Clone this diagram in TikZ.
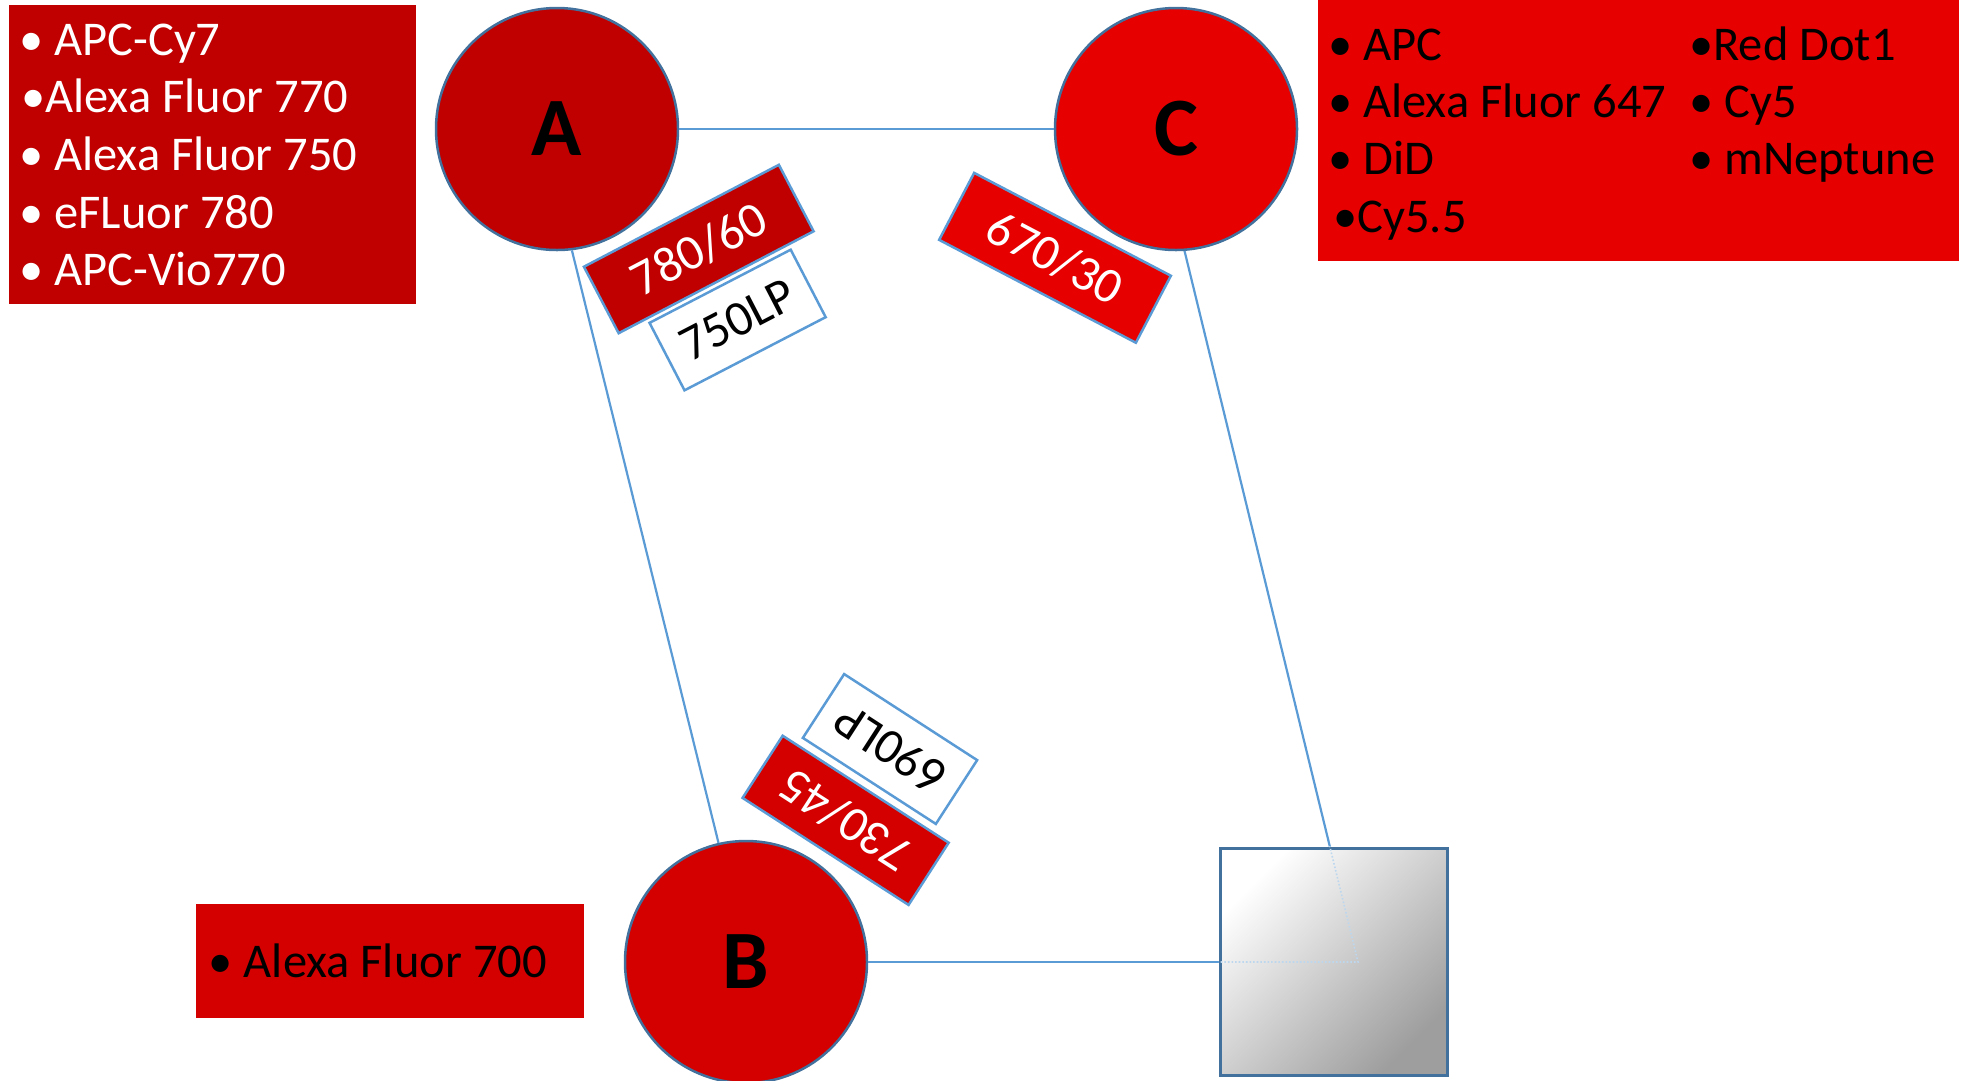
\documentclass[tikz,border=0pt]{standalone}
\usepackage{fontspec}
\setmainfont{Carlito}
\definecolor{redA}{HTML}{C00000}
\definecolor{redB}{HTML}{D40000}
\definecolor{redC}{HTML}{E60000}
\definecolor{linkblue}{HTML}{5B9BD5}
\definecolor{rimblue}{HTML}{41719C}
\newcommand\listfont{\fontsize{48.5}{58}\selectfont}
\newcommand\filterfont{\fontsize{50}{60}\selectfont}
\newcommand\letterfont{\fontsize{83}{90}\selectfont\bfseries}
\begin{document}
\begin{tikzpicture}[x=1pt,y=-1pt,
  disc/.style={circle, draw=rimblue, line width=2.5pt, minimum size=242pt, inner sep=0pt, font=\letterfont},
  listbox/.style={rectangle, inner sep=0pt, anchor=north west},
  item/.style={anchor=base west, inner sep=0pt, font=\listfont},
  filter/.style={rectangle, draw=linkblue, line width=2.5pt, inner sep=0pt, font=\filterfont},
  link/.style={draw=linkblue, line width=2.2pt},
  hidden/.style={draw=linkblue!40, line width=1.6pt, dotted}]
\useasboundingbox (0,0) rectangle (1964,1080);

% list boxes
\node[listbox, fill=redA, minimum width=407pt, minimum height=299pt] (boxA) at (9,5) {};
\node[listbox, fill=redC, minimum width=641pt, minimum height=261pt] (boxC) at (1318,0) {};
\node[listbox, fill=redB, minimum width=388pt, minimum height=114pt] (boxB) at (196,904) {};

\node[item, text=white] (a1) at (19,55) {• APC-Cy7};
\node[item, text=white] (a2) at (21,112) {•Alexa Fluor 770};
\node[item, text=white] (a3) at (19,170) {• Alexa Fluor 750};
\node[item, text=white] (a4) at (19,228) {• eFLuor 780};
\node[item, text=white] (a5) at (19,285) {• APC-Vio770};

\node[item] (c1) at (1328,60) {• APC};
\node[item] (c2) at (1328,117) {• Alexa Fluor 647};
\node[item] (c3) at (1328,174) {• DiD};
\node[item] (c4) at (1333,232) {•Cy5.5};
\node[item] (c5) at (1689,60) {•Red Dot1};
\node[item] (c6) at (1689,117) {• Cy5};
\node[item] (c7) at (1689,174) {• mNeptune};

\node[item] (b1) at (208.5,977) {• Alexa Fluor 700};

% circles
\node[disc, fill=redA] (A) at (557,129) {A};
\node[disc, fill=redC] (C) at (1176,129) {C};
\node[disc, fill=redB] (B) at (746,962) {B};
\coordinate (D) at (1358,962);

% connectors
\draw[link] (A) -- (C);
\draw[link] (A.-83) -- (B.103);
\draw[link] (C.-86) -- (D);
\draw[link] (B) -- (D);

% detector square
\node[draw=rimblue, line width=3pt, minimum size=227pt, inner sep=0pt,
      top color=white, bottom color=black!38, shading angle=45] (S) at (1333.5,961.5) {};
\begin{scope}
  \clip (S.north west) rectangle (S.south east);
  \draw[hidden] (C.-86) -- (D) -- (B);
\end{scope}

% filters
\node[filter, fill=redA, text=white, minimum width=220pt, minimum height=75pt, rotate=27.6] (f1) at (698.75,249) {780/60};
\node[filter, fill=white, text=black, minimum width=159pt, minimum height=76pt, rotate=27.4] (f2) at (737.6,320) {750LP};
\node[filter, fill=redC, text=white, minimum width=222pt, minimum height=75.6pt, rotate=-27.6] (f3) at (1055,257.8) {670/30};
\node[filter, fill=redB, text=white, minimum width=197.5pt, minimum height=74pt, rotate=147.2] (f4) at (845.6,820.3) {730/45};
\node[filter, fill=white, text=black, minimum width=158.4pt, minimum height=76pt, rotate=147.1] (f5) at (890,749) {690LP};
\end{tikzpicture}
\end{document}
